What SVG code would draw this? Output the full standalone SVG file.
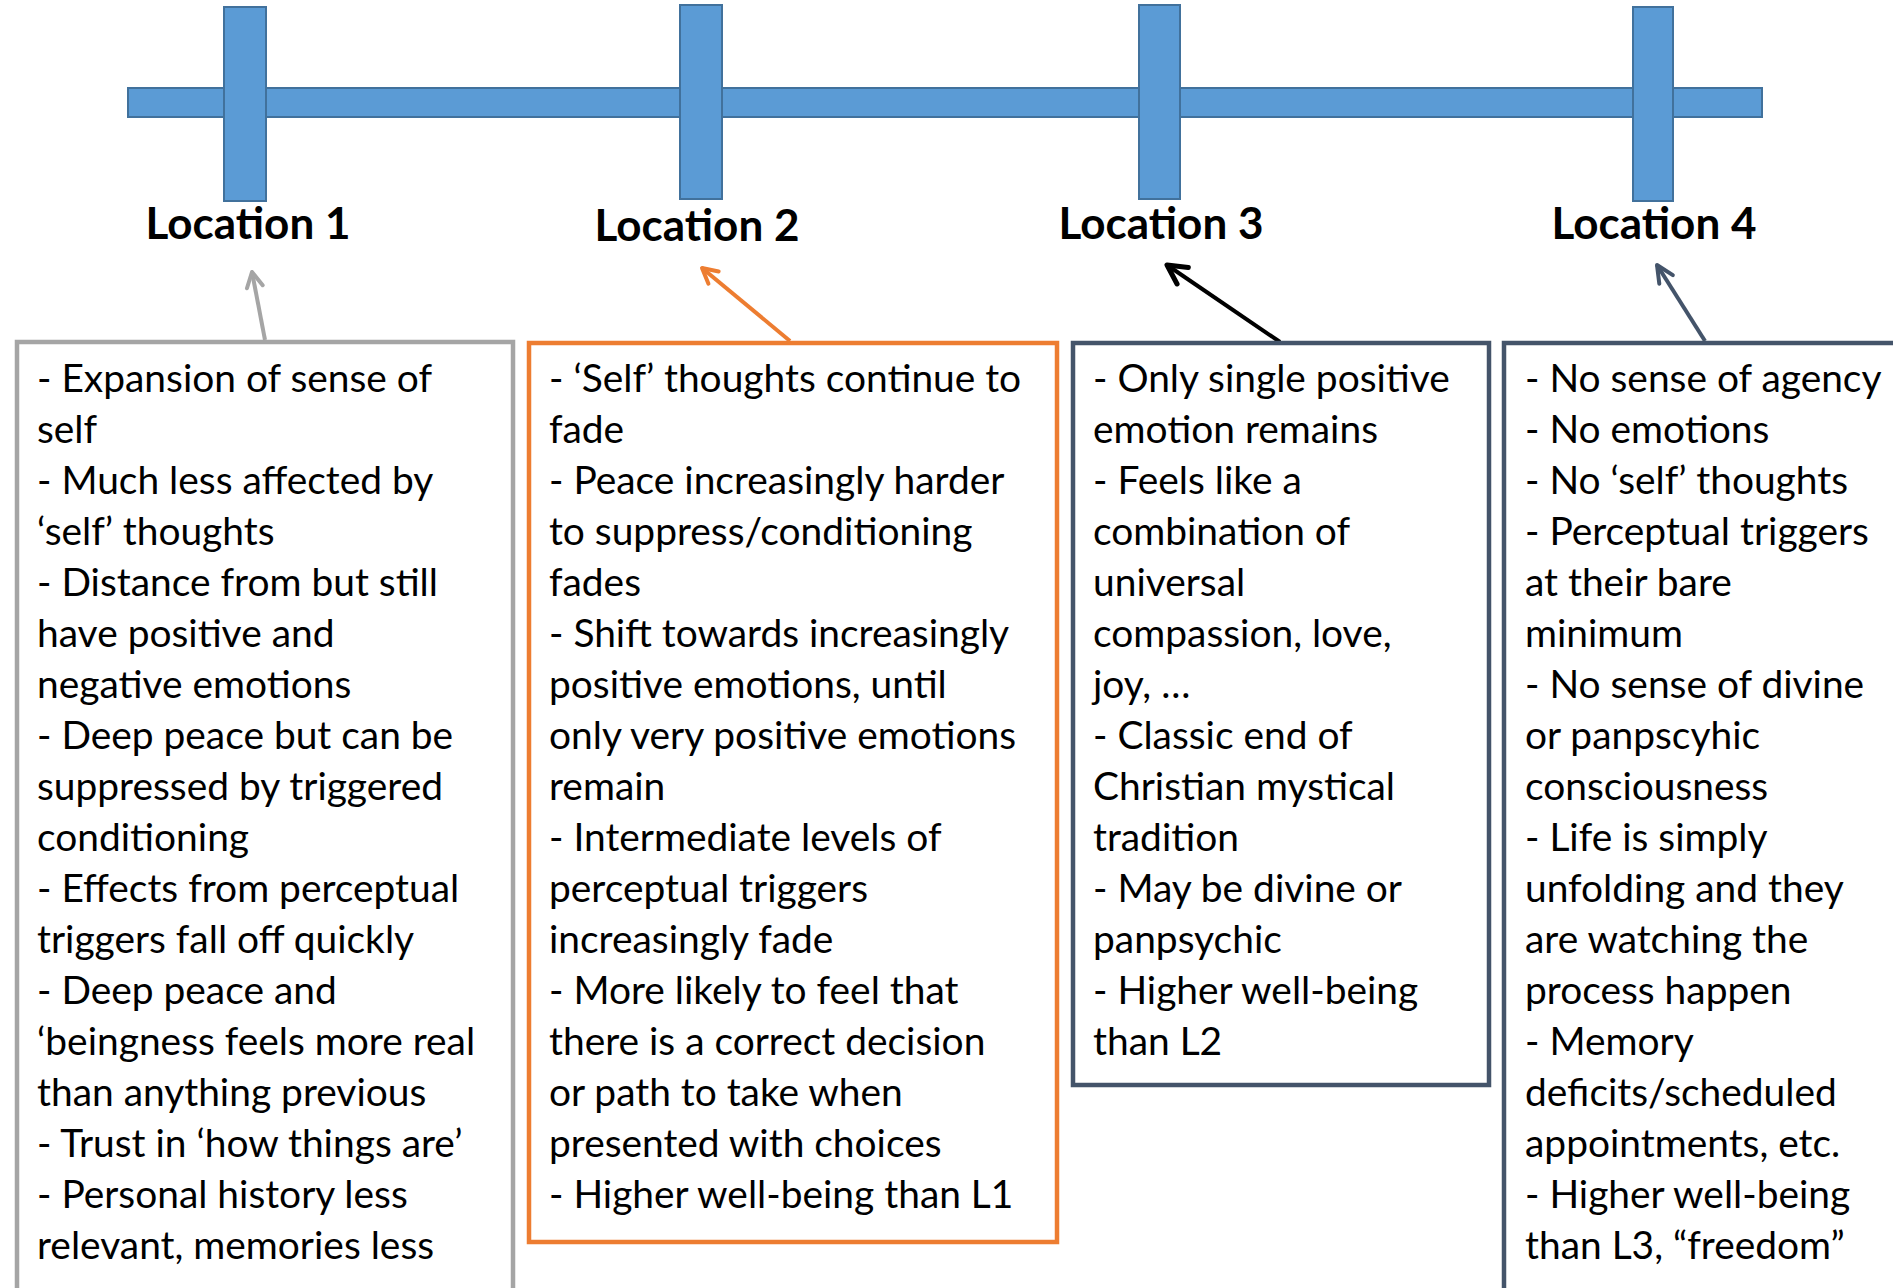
<svg xmlns="http://www.w3.org/2000/svg" width="1893" height="1288" viewBox="0 0 1893 1288">
<style>
.bar{fill:#5B9BD5;stroke:#41719C;stroke-width:2}
.loc{font-family:Lato,"Open Sans",sans-serif;font-weight:bold;font-size:44px;fill:#000;text-anchor:middle}
.body{font-family:Lato,"Open Sans",sans-serif;font-size:38.9px;fill:#000}
.box{fill:#fff;stroke-width:4.5}
.conn{fill:none;stroke-width:4}
</style>
<defs>
<marker id="hGray" viewBox="-20 -20 40 40" refX="0" refY="0" markerWidth="40" markerHeight="40" markerUnits="userSpaceOnUse" orient="auto"><path d="M-15,-8 L0,0 L-15,8" fill="none" stroke="#A5A5A5" stroke-width="4" stroke-linecap="round" stroke-linejoin="round"/></marker>
<marker id="hOrange" viewBox="-20 -20 40 40" refX="0" refY="0" markerWidth="40" markerHeight="40" markerUnits="userSpaceOnUse" orient="auto"><path d="M-15,-8 L0,0 L-15,8" fill="none" stroke="#ED7D31" stroke-width="4" stroke-linecap="round" stroke-linejoin="round"/></marker>
<marker id="hBlack" viewBox="-25 -25 50 50" refX="0" refY="0" markerWidth="50" markerHeight="50" markerUnits="userSpaceOnUse" orient="auto"><path d="M-19,-10 L0,0 L-19,10" fill="none" stroke="#000" stroke-width="5" stroke-linecap="round" stroke-linejoin="round"/></marker>
<marker id="hSlate" viewBox="-20 -20 40 40" refX="0" refY="0" markerWidth="40" markerHeight="40" markerUnits="userSpaceOnUse" orient="auto"><path d="M-17,-8 L0,0 L-17,8" fill="none" stroke="#44546A" stroke-width="4" stroke-linecap="round" stroke-linejoin="round"/></marker>
</defs>
<g id="timeline">
<rect class="bar" x="128" y="88" width="1634" height="29"/>
<rect class="bar" x="224" y="7" width="42" height="194"/>
<rect class="bar" x="680" y="5" width="42" height="194"/>
<rect class="bar" x="1139" y="5" width="41" height="194"/>
<rect class="bar" x="1633" y="7" width="40" height="194"/>
</g>
<g id="labels">
<text id="loc1" class="loc" x="248" y="239">Location 1</text>
<text id="loc2" class="loc" x="697" y="241">Location 2</text>
<text id="loc3" class="loc" x="1161" y="239">Location 3</text>
<text id="loc4" class="loc" x="1654" y="239">Location 4</text>
</g>
<g id="connectors">
<line class="conn" x1="265" y1="340" x2="252" y2="272" stroke="#A5A5A5" marker-end="url(#hGray)"/>
<line class="conn" x1="790" y1="341" x2="702" y2="268" stroke="#ED7D31" marker-end="url(#hOrange)"/>
<line class="conn" x1="1280" y1="342" x2="1167" y2="265" stroke="#000" stroke-width="5" marker-end="url(#hBlack)"/>
<line class="conn" x1="1705" y1="341" x2="1657" y2="265" stroke="#44546A" marker-end="url(#hSlate)"/>
</g>
<g id="box1">
<rect class="box" x="17" y="342" width="496" height="980" stroke="#A5A5A5"/>
<text class="body">
<tspan x="37" y="392">- Expansion of sense of</tspan>
<tspan x="37" y="443">self</tspan>
<tspan x="37" y="494">- Much less affected by</tspan>
<tspan x="37" y="545">‘self’ thoughts</tspan>
<tspan x="37" y="596">- Distance from but still</tspan>
<tspan x="37" y="647">have positive and</tspan>
<tspan x="37" y="698">negative emotions</tspan>
<tspan x="37" y="749">- Deep peace but can be</tspan>
<tspan x="37" y="800">suppressed by triggered</tspan>
<tspan x="37" y="851">conditioning</tspan>
<tspan x="37" y="902">- Effects from perceptual</tspan>
<tspan x="37" y="953">triggers fall off quickly</tspan>
<tspan x="37" y="1004">- Deep peace and</tspan>
<tspan x="37" y="1055">‘beingness feels more real</tspan>
<tspan x="37" y="1106">than anything previous</tspan>
<tspan x="37" y="1157">- Trust in ‘how things are’</tspan>
<tspan x="37" y="1208">- Personal history less</tspan>
<tspan x="37" y="1259">relevant, memories less</tspan>
</text>
</g>
<g id="box2">
<rect class="box" x="529" y="343" width="528" height="899" stroke="#ED7D31"/>
<text class="body">
<tspan x="549" y="392">- ‘Self’ thoughts continue to</tspan>
<tspan x="549" y="443">fade</tspan>
<tspan x="549" y="494">- Peace increasingly harder</tspan>
<tspan x="549" y="545">to suppress/conditioning</tspan>
<tspan x="549" y="596">fades</tspan>
<tspan x="549" y="647">- Shift towards increasingly</tspan>
<tspan x="549" y="698">positive emotions, until</tspan>
<tspan x="549" y="749">only very positive emotions</tspan>
<tspan x="549" y="800">remain</tspan>
<tspan x="549" y="851">- Intermediate levels of</tspan>
<tspan x="549" y="902">perceptual triggers</tspan>
<tspan x="549" y="953">increasingly fade</tspan>
<tspan x="549" y="1004">- More likely to feel that</tspan>
<tspan x="549" y="1055">there is a correct decision</tspan>
<tspan x="549" y="1106">or path to take when</tspan>
<tspan x="549" y="1157">presented with choices</tspan>
<tspan x="549" y="1208">- Higher well-being than L1</tspan>
</text>
</g>
<g id="box3">
<rect class="box" x="1073" y="343" width="416" height="742" stroke="#44546A"/>
<text class="body">
<tspan x="1093" y="392">- Only single positive</tspan>
<tspan x="1093" y="443">emotion remains</tspan>
<tspan x="1093" y="494">- Feels like a</tspan>
<tspan x="1093" y="545">combination of</tspan>
<tspan x="1093" y="596">universal</tspan>
<tspan x="1093" y="647">compassion, love,</tspan>
<tspan x="1093" y="698">joy, …</tspan>
<tspan x="1093" y="749">- Classic end of</tspan>
<tspan x="1093" y="800">Christian mystical</tspan>
<tspan x="1093" y="851">tradition</tspan>
<tspan x="1093" y="902">- May be divine or</tspan>
<tspan x="1093" y="953">panpsychic</tspan>
<tspan x="1093" y="1004">- Higher well-being</tspan>
<tspan x="1093" y="1055">than L2</tspan>
</text>
</g>
<g id="box4">
<rect class="box" x="1504" y="343" width="420" height="980" stroke="#44546A"/>
<text class="body">
<tspan x="1525" y="392">- No sense of agency</tspan>
<tspan x="1525" y="443">- No emotions</tspan>
<tspan x="1525" y="494">- No ‘self’ thoughts</tspan>
<tspan x="1525" y="545">- Perceptual triggers</tspan>
<tspan x="1525" y="596">at their bare</tspan>
<tspan x="1525" y="647">minimum</tspan>
<tspan x="1525" y="698">- No sense of divine</tspan>
<tspan x="1525" y="749">or panpscyhic</tspan>
<tspan x="1525" y="800">consciousness</tspan>
<tspan x="1525" y="851">- Life is simply</tspan>
<tspan x="1525" y="902">unfolding and they</tspan>
<tspan x="1525" y="953">are watching the</tspan>
<tspan x="1525" y="1004">process happen</tspan>
<tspan x="1525" y="1055">- Memory</tspan>
<tspan x="1525" y="1106">deficits/scheduled</tspan>
<tspan x="1525" y="1157">appointments, etc.</tspan>
<tspan x="1525" y="1208">- Higher well-being</tspan>
<tspan x="1525" y="1259">than L3, “freedom”</tspan>
</text>
</g>
</svg>
